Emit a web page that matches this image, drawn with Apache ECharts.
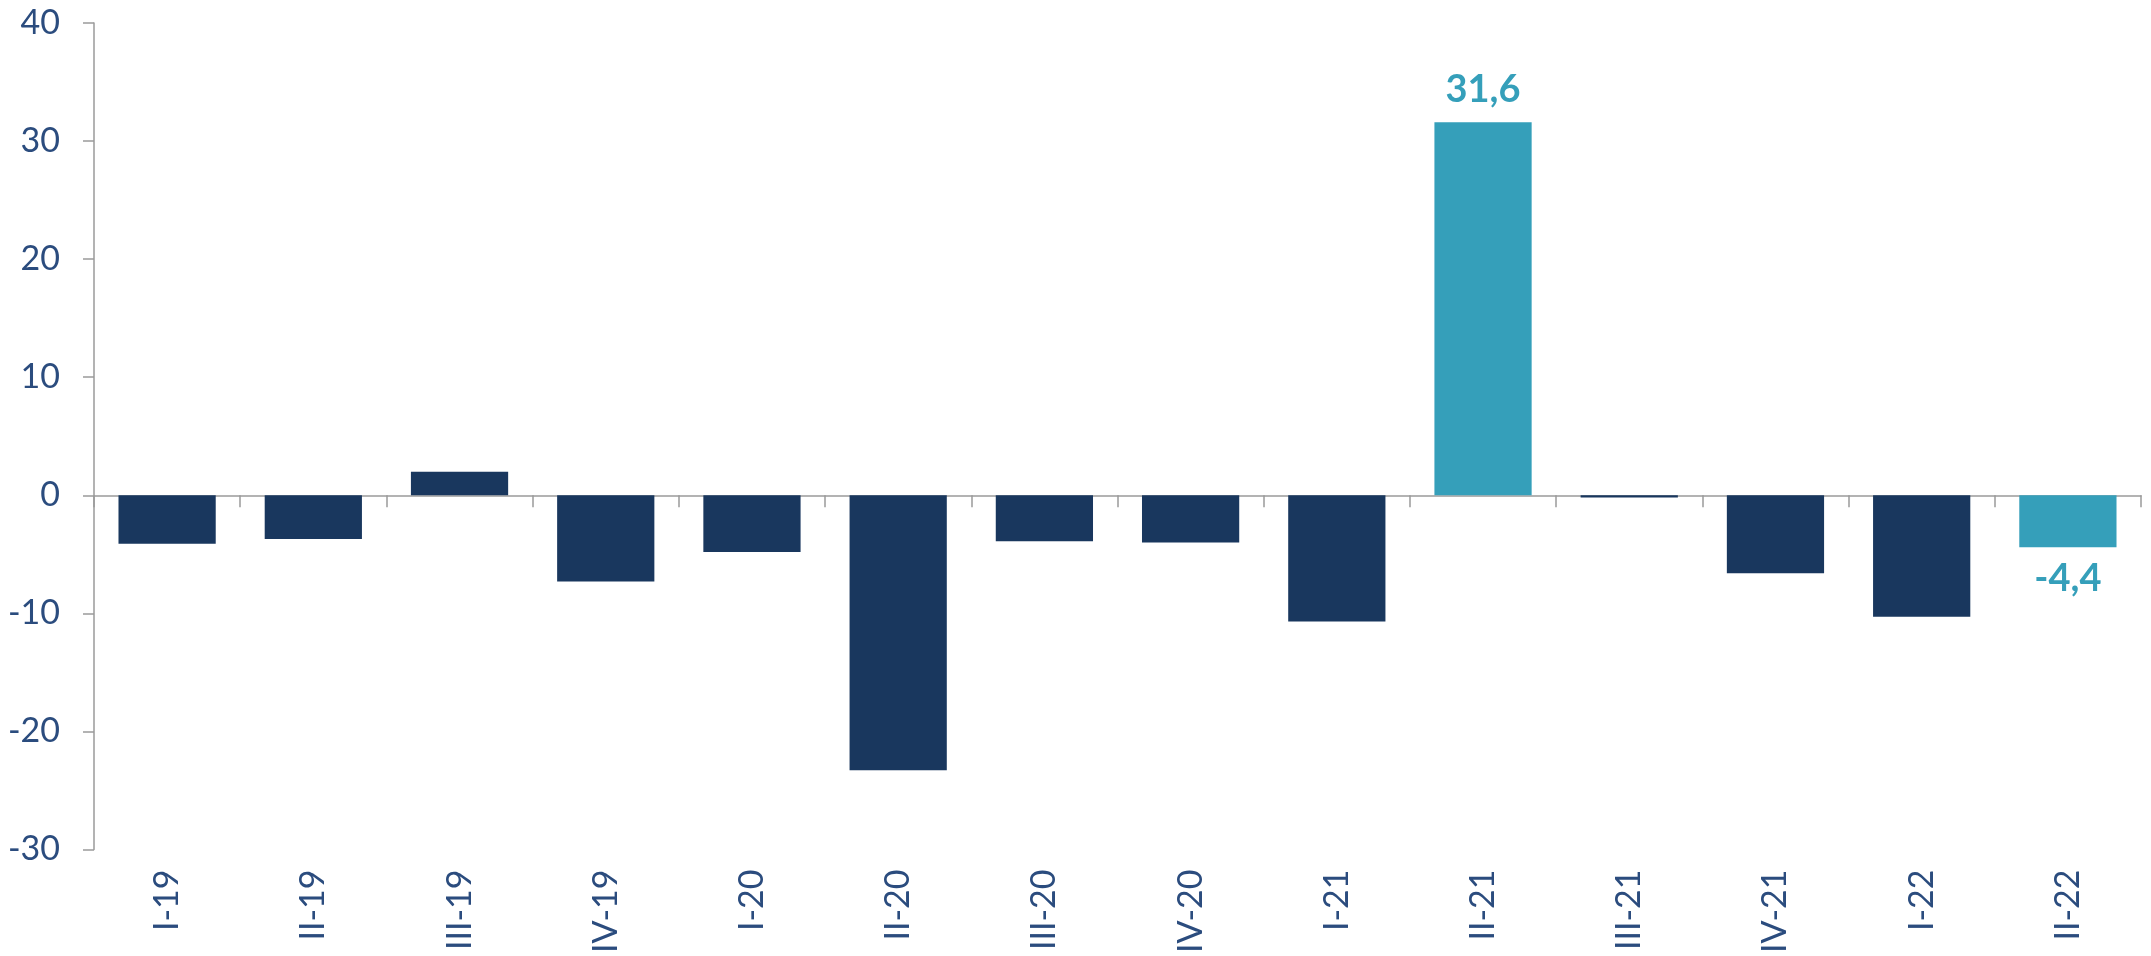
<!DOCTYPE html>
<html>
<head>
<meta charset="utf-8">
<script src="https://cdn.jsdelivr.net/npm/echarts@6/dist/echarts.min.js"></script>
<style>
html,body{margin:0;padding:0;background:#fff;}
#chart{width:2151px;height:956px;}
</style>
</head>
<body>
<div id="chart"></div>
<script>
const categories = ['I-19','II-19','III-19','IV-19','I-20','II-20','III-20','IV-20','I-21','II-21','III-21','IV-21','I-22','II-22'];
const values = [-4.1, -3.7, 2.0, -7.3, -4.8, -23.3, -3.9, -4.0, -10.7, 31.6, -0.2, -6.6, -10.3, -4.4];
const highlighted = ['II-21','II-22'];
const yTicks = { min: -30, max: 40, interval: 10 };

const DARK = '#19375E';
const LIGHT = '#359FBA';
const TEXT = '#2B4C7E';
const AXIS = '#9A9A9A';
const FONT = 'Lato, "Open Sans", sans-serif';

const chart = echarts.init(document.getElementById('chart'));
chart.setOption({
  animation: false,
  backgroundColor: '#fff',
  grid: { left: 94, right: 10, top: 23, bottom: 104, containLabel: false },
  xAxis: [
    {
      type: 'category',
      data: categories,
      position: 'bottom',
      axisLine: { show: true, onZero: true, lineStyle: { color: AXIS, width: 1.5 } },
      axisTick: { show: true, length: 12, alignWithLabel: false, lineStyle: { color: AXIS, width: 1.5 } },
      axisLabel: { show: false }
    },
    {
      type: 'category',
      data: categories,
      position: 'bottom',
      axisLine: { show: false, onZero: false },
      axisTick: { show: false },
      axisLabel: { show: true, rotate: 90, margin: 20, color: TEXT, fontSize: 34, fontFamily: FONT, interval: 0 }
    }
  ],
  yAxis: {
    type: 'value',
    min: yTicks.min, max: yTicks.max, interval: yTicks.interval,
    axisLine: { show: true, lineStyle: { color: AXIS, width: 1.5 } },
    axisTick: { show: true, length: 11, lineStyle: { color: AXIS, width: 1.5 } },
    splitLine: { show: false },
    axisLabel: { margin: 34, color: TEXT, fontSize: 34, fontFamily: FONT }
  },
  series: [{
    type: 'bar',
    xAxisIndex: 0,
    barCategoryGap: '33.5%',
    data: values.map((v, i) => {
      const hl = highlighted.includes(categories[i]);
      return {
        value: v,
        itemStyle: { color: hl ? LIGHT : DARK },
        label: {
          show: hl,
          position: v >= 0 ? 'top' : 'bottom',
          distance: 13,
          color: LIGHT,
          fontSize: 38,
          fontWeight: 'bold',
          fontFamily: FONT,
          formatter: p => String(p.value).replace('.', ',')
        }
      };
    })
  }]
});
</script>
</body>
</html>
